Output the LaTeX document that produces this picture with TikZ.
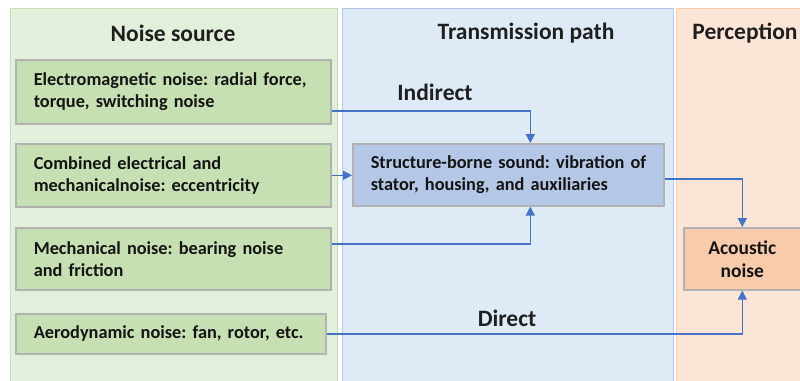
\documentclass[tikz,border=0pt]{standalone}
\usepackage{fontspec}
\setmainfont{Carlito}
\usetikzlibrary{arrows.meta,calc,positioning}
\definecolor{gpanel}{HTML}{E2EFDA}
\definecolor{gpanelb}{HTML}{C5E0B4}
\definecolor{gbox}{HTML}{C6E0B4}
\definecolor{bpanel}{HTML}{DEEBF7}
\definecolor{bpanelb}{HTML}{B4C7E7}
\definecolor{bbox}{HTML}{B4C7E7}
\definecolor{opanel}{HTML}{FBE5D6}
\definecolor{opanelb}{HTML}{F8CBAD}
\definecolor{obox}{HTML}{F8CBAD}
\definecolor{arr}{HTML}{4472C4}
\tikzset{
  panel/.style={rectangle, anchor=north west, inner sep=0pt, line width=1pt},
  header/.style={font=\fontsize{23.5}{26}\selectfont\bfseries, text=black!88},
  srcbox/.style={rectangle, anchor=north west, fill=gbox, draw=black!30, line width=1.6pt,
    inner xsep=18pt, inner ysep=0pt, align=left, font=\fontsize{18.3}{22}\selectfont\bfseries, text=black!92},
  link/.style={draw=arr, line width=1.5pt, -{Triangle[length=9pt,width=9pt]}},
  pathlabel/.style={font=\fontsize{23.5}{26}\selectfont\bfseries, text=black!88}
}
\begin{document}
\frenchspacing
\begin{tikzpicture}[x=1pt,y=-1pt]
\useasboundingbox (0,0) rectangle (800,380);
\fill[white] (0,0) rectangle (800,380);
% panels
\node[panel, fill=gpanel, draw=gpanelb, minimum width=327pt, minimum height=376pt] (gp) at (10,8) {};
\node[panel, fill=bpanel, draw=bpanelb, minimum width=331pt, minimum height=376pt] (bp) at (342,8) {};
\node[panel, fill=opanel, draw=opanelb, minimum width=130pt, minimum height=376pt] (op) at (676,8) {};
% headers
\node[header] (h1) at (173,33) {Noise source};
\node[header] (h2) at (526,33) {Transmission path};
\node[header] (h3) at (745,33) {Perception};
% source boxes
\node[srcbox, text width=279pt, minimum height=64pt] (b1) at (15,59) {Electromagnetic noise: radial force,\\torque, switching noise};
\node[srcbox, text width=279pt, minimum height=63pt] (b2) at (15,143) {Combined electrical and\\mechanicalnoise: eccentricity};
\node[srcbox, text width=279pt, minimum height=62pt] (b3) at (15,227) {Mechanical noise: bearing noise\\and friction};
\node[srcbox, text width=278pt, inner xsep=16pt, minimum height=40pt] (b4) at (15,313) {\hspace*{2pt}Aerodynamic noise: fan, rotor, etc.};
% structure-borne
\node[srcbox, fill=bbox, text width=277pt, inner xsep=17pt, minimum height=62pt] (sb) at (352,143) {\hspace*{1pt}Structure-borne sound: vibration of\\\hspace*{1pt}stator, housing, and auxiliaries};
% acoustic
\node[srcbox, fill=obox, align=center, text width=117pt, inner xsep=0pt, minimum height=62pt, font=\fontsize{19.5}{23}\selectfont\bfseries] (ac) at (683,227) {Acoustic\\noise};
% labels
\node[pathlabel] (li) at (435,92) {Indirect};
\node[pathlabel] (ld) at (507,318) {Direct};
% connectors
\coordinate (sbn) at ($(sb.north)+(22,0)$);
\coordinate (sbs) at ($(sb.south)+(22,0)$);
\draw[link] ($(b1.east)+(0,19)$) -| (sbn);
\draw[link] (b2.east) -- (b2.east -| sb.west);
\draw[link] ($(b3.east)+(0,-15)$) -| (sbs);
\draw[link] ($(sb.east)+(0,4)$) -| (ac.north);
\draw[link] (b4.east) -| (ac.south);
\end{tikzpicture}
\end{document}
